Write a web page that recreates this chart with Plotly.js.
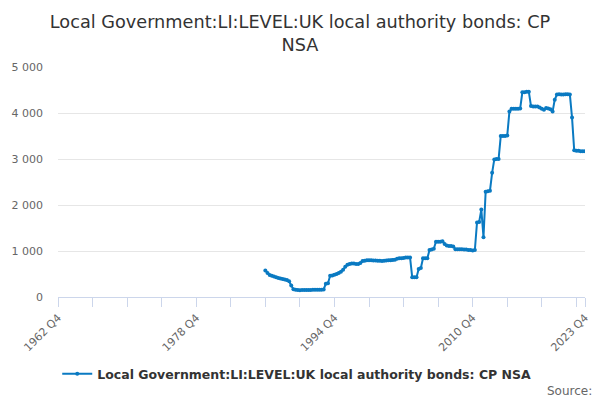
<!DOCTYPE html>
<html>
<head>
<meta charset="utf-8">
<script src="https://cdn.plot.ly/plotly-3.0.1.min.js"></script>
<style>
html, body { margin: 0; padding: 0; background: #fff; }
#chart { width: 600px; height: 400px; }
</style>
</head>
<body>
<div id="chart"></div>
<script>
// Quarter labels on the category axis, 1962 Q4 to 2023 Q4.
var quarters = ['1962 Q4'];
for (var y = 1963; y <= 2023; ++y) {
  for (var q = 1; q <= 4; ++q) {
    quarters.push(y + ' Q' + q);
  }
}

// Series starts in 1986 Q4 (one row per year).
var seriesStart = '1986 Q4';
var values = [
  575,
  520, 478, 460, 445,
  430, 415, 400, 390,
  380, 370, 340, 250,
  170, 155, 150, 148,
  150, 152, 150, 150,
  152, 155, 155, 158,
  160, 160, 165, 290,
  300, 460, 470, 485,
  500, 520, 550, 590,
  660, 700, 715, 730,
  730, 720, 715, 740,
  780, 790, 800, 800,
  800, 795, 795, 790,
  790, 785, 790, 795,
  800, 800, 805, 810,
  830, 840, 840, 850,
  860, 860, 860, 430,
  430, 430, 610, 630,
  840, 840, 840, 1020,
  1030, 1050, 1200, 1200,
  1200, 1210, 1150, 1120,
  1110, 1110, 1100, 1040,
  1040, 1040, 1040, 1035,
  1030, 1020, 1020, 1010,
  1020, 1620, 1630, 1900,
  1300, 2290, 2300, 2310,
  2700, 2990, 3000, 3000,
  3500, 3500, 3500, 3510,
  4030, 4090, 4090, 4090,
  4090, 4100, 4450, 4450,
  4460, 4460, 4150, 4140,
  4140, 4140, 4120, 4090,
  4070, 4110, 4100, 4080,
  4030, 4290, 4400, 4410,
  4400, 4400, 4410, 4410,
  4400, 3900, 3190, 3180,
  3180, 3170, 3170, 3170
];

// Tick marks every 4 years, labels on a few of them.
var tickQuarters = ['1962 Q4', '1966 Q4', '1970 Q4', '1974 Q4', '1978 Q4', '1982 Q4',
  '1986 Q4', '1990 Q4', '1994 Q4', '1998 Q4', '2002 Q4', '2006 Q4', '2010 Q4',
  '2014 Q4', '2018 Q4', '2022 Q4', '2023 Q4'];
var labelledQuarters = ['1962 Q4', '1978 Q4', '1994 Q4', '2010 Q4', '2023 Q4'];
var yTicks = [0, 1000, 2000, 3000, 4000, 5000];

var seriesName = 'Local Government:LI:LEVEL:UK local authority bonds: CP NSA';
var font = 'DejaVu Sans, Verdana, sans-serif';
var lineColor = '#0a7ac2';

var start = quarters.indexOf(seriesStart);
var trace = {
  x: quarters.slice(start, start + values.length),
  y: values,
  type: 'scatter',
  mode: 'lines+markers',
  name: seriesName,
  line: {color: lineColor, width: 2},
  marker: {color: lineColor, size: 4}
};

var layout = {
  width: 600,
  height: 400,
  paper_bgcolor: '#ffffff',
  plot_bgcolor: '#ffffff',
  font: {family: font, color: '#666666', size: 11},
  separators: '. ',
  margin: {l: 58, r: 15, t: 67, b: 102},
  showlegend: true,
  title: {
    text: 'Local Government:LI:LEVEL:UK local authority bonds: CP<br>NSA',
    font: {family: font, size: 17.7, color: '#333333'},
    x: 0.5,
    xanchor: 'center',
    y: 0.93,
    yanchor: 'top'
  },
  xaxis: {
    type: 'category',
    categoryorder: 'array',
    categoryarray: quarters,
    range: [0, quarters.length - 1],
    tickmode: 'array',
    tickvals: tickQuarters,
    ticktext: tickQuarters.map(function (t) {
      return labelledQuarters.indexOf(t) >= 0 ? t : '';
    }),
    tickangle: -45,
    ticks: 'outside',
    ticklen: 9,
    tickcolor: '#ccd6eb',
    showline: true,
    linecolor: '#ccd6eb',
    linewidth: 1,
    showgrid: false,
    zeroline: false,
    fixedrange: true,
    tickfont: {family: font, size: 11, color: '#666666'}
  },
  yaxis: {
    range: [0, 5000],
    tickmode: 'array',
    tickvals: yTicks,
    separatethousands: true,
    showgrid: true,
    gridcolor: '#e6e6e6',
    zeroline: false,
    showline: false,
    ticks: '',
    ticklabelstandoff: 14,
    tickfont: {family: font, size: 11, color: '#666666'}
  },
  legend: {
    orientation: 'h',
    x: 0.453,
    xanchor: 'center',
    y: -0.33,
    yanchor: 'middle',
    font: {family: font, size: 12.5, color: '#333333', weight: 'bold'}
  },
  annotations: [{
    text: 'Source:',
    xref: 'paper',
    yref: 'paper',
    x: 1.017,
    xanchor: 'right',
    y: -0.41,
    yanchor: 'middle',
    showarrow: false,
    font: {family: font, size: 12, color: '#666666'}
  }]
};

Plotly.newPlot('chart', [trace], layout, {displayModeBar: false, staticPlot: true});
</script>
</body>
</html>
